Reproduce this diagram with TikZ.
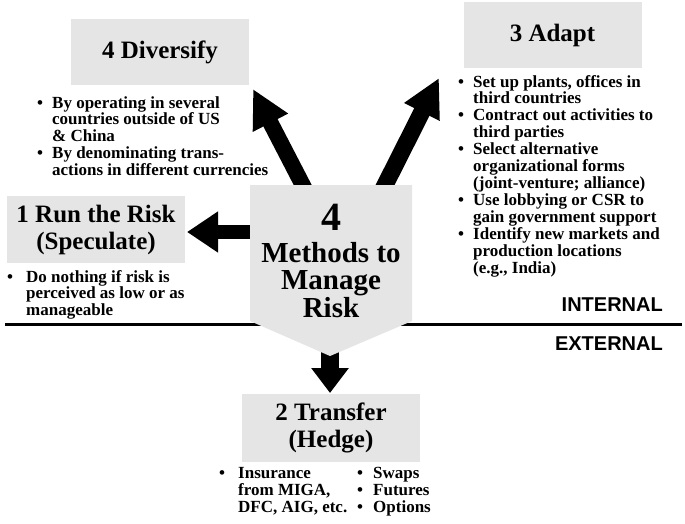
\documentclass[tikz,border=0pt]{standalone}
\usepackage{fontspec}
\setmainfont{Liberation Serif}
\newfontfamily\arialfont{Liberation Sans}
\usetikzlibrary{arrows.meta}
\definecolor{boxgray}{RGB}{229,229,229}
\newlength{\bsep}
\newcommand{\bl}{\makebox[\bsep][l]{\textbullet}}
\tikzset{
  box/.style={fill=boxgray, inner sep=0pt, minimum width=178pt, minimum height=66pt,
    align=center, font=\bfseries\fontsize{25}{27}\selectfont},
  blist/.style={anchor=base west, inner sep=0pt, align=left},
  bigarrow/.style={line width=#1, -{Triangle[length=38pt,width=37pt]}},
  regionlabel/.style={anchor=base east, inner sep=0pt, font=\arialfont\bfseries\fontsize{20}{20}\selectfont}
}
\begin{document}
\begin{tikzpicture}[x=1pt,y=-1pt]
\useasboundingbox (0,0) rectangle (685,523);
% divider
\coordinate (lineL) at (5,324);
\coordinate (lineR) at (682,324);
\draw[line width=3pt] (lineL) -- (lineR);
% boxes
\node[box] (div) at (160,52) {4 Diversify};
\node[box] (adapt) at (552.5,35) {3 Adapt};
\node[box, minimum height=67pt] (run) at (96,229.5) {1 Run the Risk\\(Speculate)};
\node[box, minimum height=68pt] (trans) at (331,428) {2 Transfer\\(Hedge)};
% arrows
\coordinate (ulS) at (311,201);
\coordinate (ulT) at (253,89);
\coordinate (urS) at (377,201);
\coordinate (urT) at (439,78);
\coordinate (lS) at (262,232);
\coordinate (lT) at (187,232);
\coordinate (dS) at (330,340);
\coordinate (dT) at (330,393);
\draw[bigarrow=16pt] (ulS) -- (ulT);
\draw[bigarrow=17pt] (urS) -- (urT);
\draw[line width=14pt, -{Triangle[length=31pt,width=39pt]}] (lS) -- (lT);
\draw[line width=18pt, -{Triangle[length=25pt,width=36pt]}] (dS) -- (dT);
% pentagon
\coordinate (p1) at (250,185);
\coordinate (p2) at (412,185);
\coordinate (p3) at (412,321);
\coordinate (p4) at (330,356);
\coordinate (p5) at (250,321);
\fill[boxgray] (p1) -- (p2) -- (p3) -- (p4) -- (p5) -- cycle;
\node[anchor=base, inner sep=0pt, font=\bfseries\fontsize{40}{40}\selectfont] (four) at (331,230) {4};
\node[anchor=base, inner sep=0pt, font=\bfseries\fontsize{29}{29}\selectfont] (m1) at (331,262) {Methods to};
\node[anchor=base, inner sep=0pt, font=\bfseries\fontsize{29}{29}\selectfont] (m2) at (331,289.5) {Manage};
\node[anchor=base, inner sep=0pt, font=\bfseries\fontsize{29}{29}\selectfont] (m3) at (331,317) {Risk};
% lists
\node[blist, font=\bfseries\fontsize{17}{16.4}\selectfont] (divl) at (37,108) {\setlength{\bsep}{15pt}\renewcommand{\arraystretch}{1}%
\begin{tabular}[t]{@{}l@{}l@{}}
\bl & By operating in several\\
 & countries outside of US\\
 & \& China\\
\bl & By denominating trans-\\
 & actions in different currencies
\end{tabular}};
\node[blist, font=\bfseries\fontsize{17}{16.9}\selectfont] (adl) at (458,87) {\setlength{\bsep}{15pt}\renewcommand{\arraystretch}{1}%
\begin{tabular}[t]{@{}l@{}l@{}}
\bl & Set up plants, offices in\\
 & third countries\\
\bl & Contract out activities to\\
 & third parties\\
\bl & Select alternative\\
 & organizational forms\\
 & (joint-venture; alliance)\\
\bl & Use lobbying or CSR to\\
 & gain government support\\
\bl & Identify new markets and\\
 & production locations\\
 & (e.g., India)
\end{tabular}};
\node[blist, font=\bfseries\fontsize{17}{16.7}\selectfont] (runl) at (7,282) {\setlength{\bsep}{19pt}\renewcommand{\arraystretch}{1}%
\begin{tabular}[t]{@{}l@{}l@{}}
\bl & Do nothing if risk is\\
 & perceived as low or as\\
 & manageable
\end{tabular}};
\node[blist, font=\bfseries\fontsize{17}{17.4}\selectfont] (trl1) at (219,478) {\setlength{\bsep}{19pt}\renewcommand{\arraystretch}{1}%
\begin{tabular}[t]{@{}l@{}l@{}}
\bl & Insurance\\
 & from MIGA,\\
 & DFC, AIG, etc.
\end{tabular}};
\node[blist, font=\bfseries\fontsize{17}{17.4}\selectfont] (trl2) at (357,478) {\setlength{\bsep}{16pt}\renewcommand{\arraystretch}{1}%
\begin{tabular}[t]{@{}l@{}l@{}}
\bl & Swaps\\
\bl & Futures\\
\bl & Options
\end{tabular}};
% region labels
\node[regionlabel] (internal) at (663,311) {INTERNAL};
\node[regionlabel] (external) at (663,350) {EXTERNAL};
\end{tikzpicture}
\end{document}
